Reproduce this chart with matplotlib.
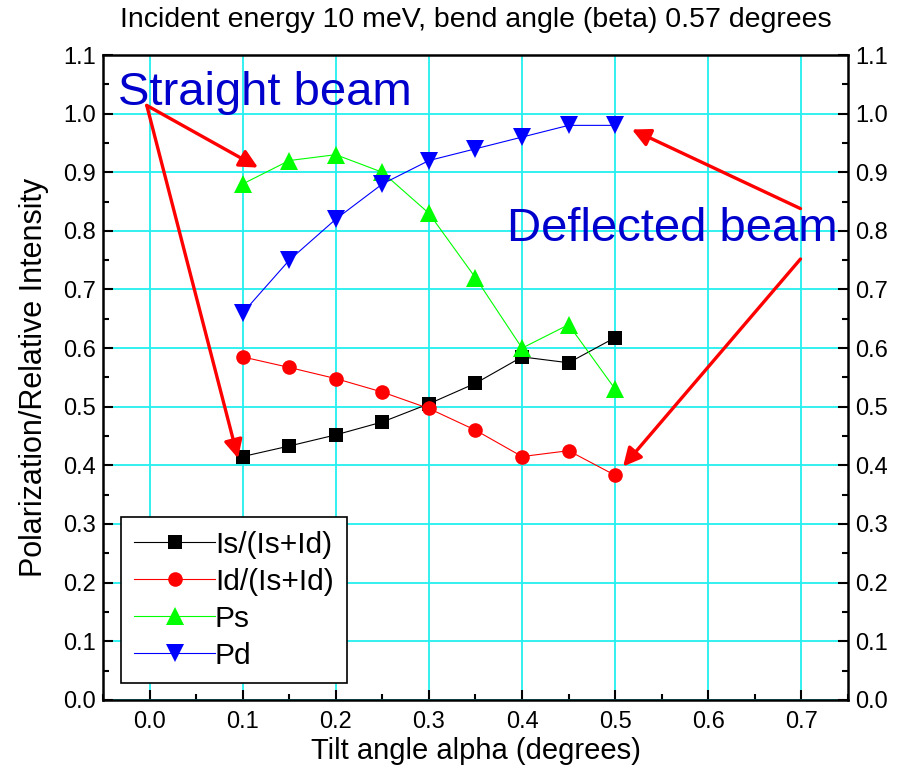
import matplotlib
matplotlib.use("Agg")
import matplotlib.pyplot as plt
from matplotlib.ticker import MultipleLocator, FormatStrFormatter

plt.rcParams['font.family'] = ['Liberation Sans', 'DejaVu Sans']

alpha = [0.1, 0.15, 0.2, 0.25, 0.3, 0.35, 0.4, 0.45, 0.5]
is_frac = [0.415, 0.433, 0.452, 0.474, 0.505, 0.540, 0.585, 0.575, 0.618]
id_frac = [0.585, 0.567, 0.548, 0.525, 0.497, 0.460, 0.415, 0.425, 0.383]
ps = [0.88, 0.92, 0.93, 0.90, 0.83, 0.72, 0.60, 0.64, 0.53]
pd = [0.66, 0.75, 0.82, 0.88, 0.92, 0.94, 0.96, 0.98, 0.98]

labels = ['Is/(Is+Id)', 'Id/(Is+Id)', 'Ps', 'Pd']
colors = ['black', 'red', '#00ff00', 'blue']
markers = ['s', 'o', '^', 'v']

fig = plt.figure(figsize=(8.98, 7.75), dpi=100)
ax = fig.add_axes([0.1147, 0.097, 0.8296, 0.832])

for y, lab, c, m in zip([is_frac, id_frac, ps, pd], labels, colors, markers):
    ax.plot(alpha, y, color=c, marker=m, markersize=12.5 if m in '^v' else 10.5,
            linewidth=0.8, label=lab, markeredgewidth=0)

ax.set_xlim(-0.05, 0.75)
ax.set_ylim(0.0, 1.1)
ax.xaxis.set_major_locator(MultipleLocator(0.1))
ax.xaxis.set_minor_locator(MultipleLocator(0.05))
ax.yaxis.set_major_locator(MultipleLocator(0.1))
ax.yaxis.set_minor_locator(MultipleLocator(0.05))
ax.grid(True, which='major', color='#22f0f0', linewidth=1.3)
ax.set_axisbelow(True)

ax.tick_params(which='both', direction='in', left=True, right=True, top=False,
               labelleft=True, labelright=True, width=1.5)
ax.tick_params(which='major', length=7, labelsize=17)
ax.tick_params(which='minor', length=4)
for s in ax.spines.values():
    s.set_linewidth(1.8)

ax.xaxis.set_major_formatter(FormatStrFormatter('%.1f'))
ax.yaxis.set_major_formatter(FormatStrFormatter('%.1f'))
ax.tick_params(axis='x', pad=8)
ax.tick_params(axis='y', pad=5)

ax.set_xlabel('Tilt angle alpha (degrees)', fontsize=21, labelpad=3)
ax.set_ylabel('Polarization/Relative Intensity', fontsize=22, labelpad=10)
ax.set_title('Incident energy 10 meV, bend angle (beta) 0.57 degrees', fontsize=20.5, pad=20)

ax.text(-0.034, 1.015, 'Straight beam', fontsize=34, color='#0000cc', va='baseline')
ax.text(0.384, 0.783, 'Deflected beam', fontsize=34, color='#0000cc', va='baseline')

arrow_kw = dict(arrowstyle='-|>,head_length=1.1,head_width=0.55', color='red', lw=2.4, shrinkA=0, shrinkB=0)
ax.annotate('', xy=(0.1165, 0.908), xytext=(-0.003, 1.014), arrowprops=arrow_kw)
ax.annotate('', xy=(0.095, 0.412), xytext=(-0.003, 1.014), arrowprops=arrow_kw)
ax.annotate('', xy=(0.518, 0.973), xytext=(0.699, 0.838), arrowprops=arrow_kw)
ax.annotate('', xy=(0.5085, 0.398), xytext=(0.699, 0.752), arrowprops=arrow_kw)

leg = ax.legend(loc='lower left', bbox_to_anchor=(0.024, 0.026), frameon=True,
                fancybox=False, edgecolor='black', framealpha=1, handlelength=2.7,
                handletextpad=0.0, borderpad=0.45, labelspacing=0.3, borderaxespad=0,
                prop={'size': 21.5})
leg.get_frame().set_linewidth(1.2)

fig.savefig('out.png', dpi=100)
